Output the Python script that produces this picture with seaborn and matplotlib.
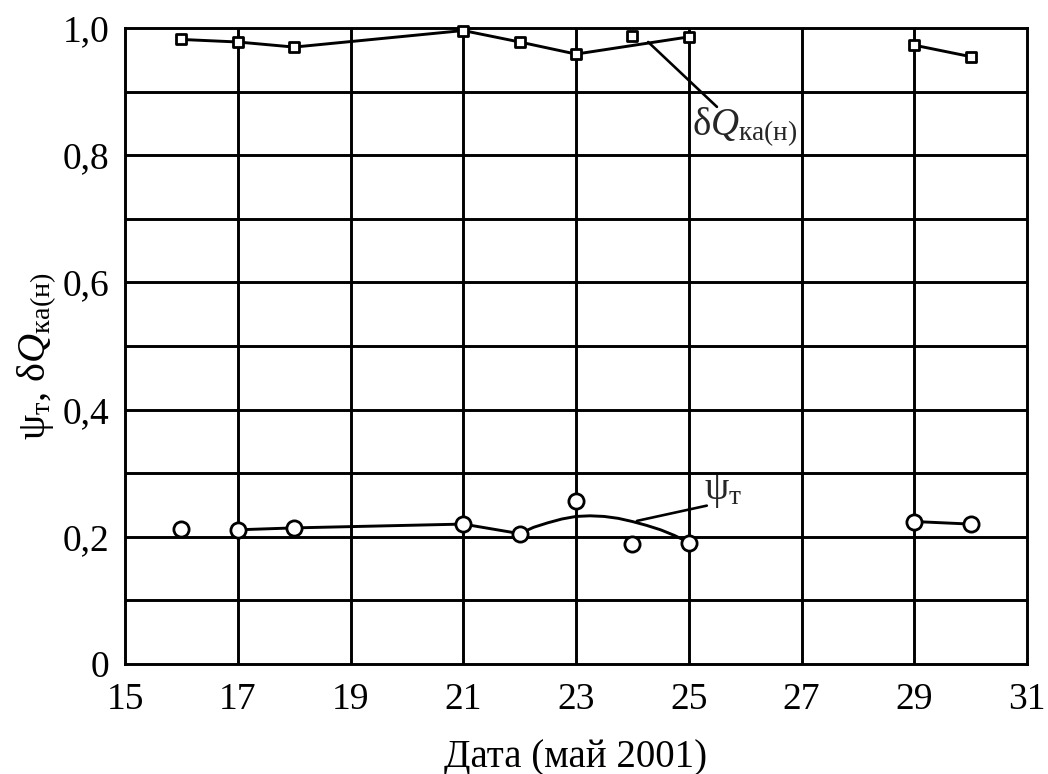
import matplotlib
matplotlib.use("Agg")
import matplotlib.pyplot as plt
import seaborn as sns
import numpy as np
import pandas as pd

# ---- data ----
days = [16, 17, 18, 21, 22, 23, 24, 25, 29, 30]
dq_vals = [0.982, 0.978, 0.970, 0.996, 0.978, 0.959, 0.987, 0.986, 0.973, 0.955]
psi_vals = [0.212, 0.211, 0.214, 0.220, 0.205, 0.257, 0.188, 0.191, 0.224, 0.220]

# connected segments (by day)
dq_segments = [[16, 17, 18, 21, 22, 23, 25], [29, 30]]
psi_segments = [[17, 18, 21, 22], [29, 30]]

# smooth trend curve drawn between 22 and 25
curve_x = [22.0, 22.25, 22.5, 22.75, 23.0, 23.25, 23.5, 23.75, 24.0, 24.25, 24.5, 24.75, 25.0]
curve_y = [0.205, 0.215, 0.222, 0.228, 0.232, 0.233, 0.232, 0.229, 0.224, 0.218, 0.211, 0.202, 0.191]

# leader lines for labels
dq_leader_x = [24.28, 25.5]
dq_leader_y = [0.978, 0.876]
psi_leader_x = [24.08, 25.32]
psi_leader_y = [0.225, 0.249]

x_ticks = [15, 17, 19, 21, 23, 25, 27, 29, 31]
y_ticks = [0, 0.2, 0.4, 0.6, 0.8, 1.0]
y_ticklabels = ["0", "0,2", "0,4", "0,6", "0,8", "1,0"]

# ---- style ----
sns.set_theme(style="white")
plt.rcParams["font.family"] = ["Liberation Serif", "DejaVu Serif"]
plt.rcParams["mathtext.fontset"] = "custom"
plt.rcParams["mathtext.rm"] = "Liberation Serif"
plt.rcParams["mathtext.it"] = "Liberation Serif:italic"
plt.rcParams["mathtext.bf"] = "Liberation Serif:bold"

fig = plt.figure(figsize=(10.48, 7.74), dpi=100)
ax = fig.add_axes([125 / 1048, 110 / 774, (1027 - 125) / 1048, (664 - 28) / 774])

lw = 2.1
val_dq = dict(zip(days, dq_vals))
val_psi = dict(zip(days, psi_vals))

rows = []
for i, seg in enumerate(dq_segments):
    for d in seg:
        rows.append(dict(day=d, val=val_dq[d], seg=f"dq{i}"))
for i, seg in enumerate(psi_segments):
    for d in seg:
        rows.append(dict(day=d, val=val_psi[d], seg=f"psi{i}"))
for x, y in zip(curve_x, curve_y):
    rows.append(dict(day=x, val=y, seg="curve"))
lines_df = pd.DataFrame(rows)

# grid
ax.set_xlim(15, 31)
ax.set_ylim(0, 1.0)
for xv in range(17, 31, 2):
    ax.axvline(xv, color="black", lw=lw, zorder=1)
for yv in np.arange(0.1, 1.0, 0.1):
    ax.axhline(yv, color="black", lw=lw, zorder=1)

sns.lineplot(data=lines_df, x="day", y="val", units="seg", estimator=None,
             sort=False, color="black", lw=lw, ax=ax, zorder=3, legend=False)

ax.plot(dq_leader_x, dq_leader_y, color="black", lw=lw * 0.9, zorder=3)
ax.plot(psi_leader_x, psi_leader_y, color="black", lw=lw * 0.9, zorder=3)

pts = pd.DataFrame(dict(day=days, dq=dq_vals, psi=psi_vals))
sns.scatterplot(data=pts, x="day", y="dq", marker="s", s=60, facecolor="white",
                edgecolor="black", linewidth=2.0, ax=ax, zorder=4, clip_on=False)
sns.scatterplot(data=pts, x="day", y="psi", marker="o", s=120, facecolor="white",
                edgecolor="black", linewidth=2.0, ax=ax, zorder=4, clip_on=False)

ax.text(25.05, 0.843, r"$\mathrm{δ}\mathit{Q}_{\mathrm{ка(н)}}$", fontsize=28,
        va="center", ha="left", zorder=5)
ax.text(25.27, 0.272, r"$\mathrm{ψ}_{\mathrm{т}}$", fontsize=28,
        va="center", ha="left", zorder=5)

ax.set_xticks(x_ticks)
ax.set_xticklabels([str(t) for t in x_ticks])
ax.set_yticks(y_ticks)
ax.set_yticklabels(y_ticklabels)
ax.tick_params(axis="both", length=0, labelsize=27, colors="black")
ax.tick_params(axis="x", pad=13)
ax.tick_params(axis="y", pad=11)

for sp in ax.spines.values():
    sp.set_visible(True)
    sp.set_color("black")
    sp.set_linewidth(lw)

ax.set_xlabel("Дата (май 2001)", fontsize=28, color="black")
ax.xaxis.set_label_coords(0.5, -0.147)
ax.xaxis.label.set_va("center")
ax.set_ylabel(r"$\mathrm{ψ}_{\mathrm{т}}$, $\mathrm{δ}\mathit{Q}_{\mathrm{ка(н)}}$",
              fontsize=29, color="black")
ax.yaxis.set_label_coords(-0.097, 0.484)
ax.yaxis.label.set_va("center")

fig.savefig("out.png", dpi=100, facecolor="white")
